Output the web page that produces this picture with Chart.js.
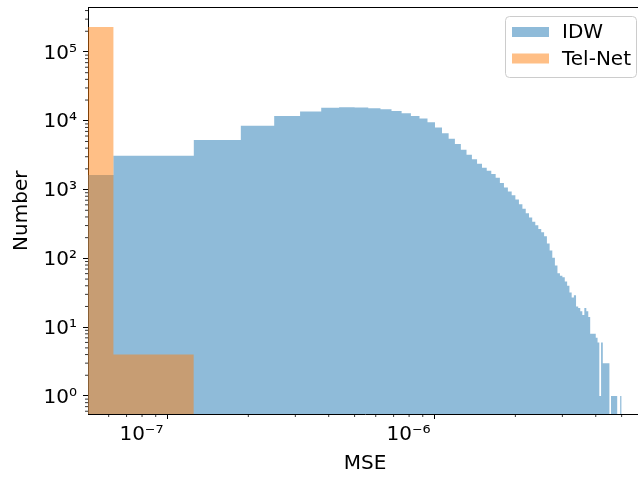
<!DOCTYPE html>
<html>
<head>
<meta charset="utf-8">
<title>MSE histogram</title>
<script src="https://cdn.jsdelivr.net/npm/chart.js@4/dist/chart.umd.min.js"></script>
<style>
  html, body { margin: 0; padding: 0; background: #fff; overflow: hidden; }
  #wrap { width: 660px; height: 477px; }
  canvas { display: block; }
</style>
</head>
<body>
<div id="wrap"><canvas id="hist" width="660" height="477"></canvas></div>
<script>
// 80 equal-width bins starting at 0
const binWidth = 6.25e-8;

// counts per bin
const idwCounts = [
  1630, 3100, 5250, 8500, 11700, 13600, 15400, 15700, 15600, 15200,
  14700, 13900, 12900, 11700, 10800, 9500, 8000, 6600, 5500, 4600,
  3800, 3200, 2750, 2380, 2080, 1870, 1690, 1490, 1250, 1070,
  940, 830, 716, 614, 526, 454, 393, 341, 302, 268,
  240, 210, 165, 130, 102, 79, 61, 56, 53, 46,
  40, 32, 27, 29, 20, 19, 17, 15, 19, 17,
  14, 8, 8, 8, 7, 6, 1, 6, 3, 3,
  3, 3, 0, 1, 1, 1, 1, 0, 0, 1
];
const telNetCounts = [231000, 4]; // later bins are empty

const xTickValues = [1e-7, 1e-6];
const xTickLabels = ['10⁻⁷', '10⁻⁶'];
const yTickValues = [1, 10, 100, 1000, 10000, 100000];
const yTickLabels = ['10⁰', '10¹', '10²', '10³', '10⁴', '10⁵'];

// axis limits
const xMin = 5.02e-8, xMax = 5.96e-6;
const yMin = 0.547, yMax = 4.43e5;

const FONT = { family: 'DejaVu Sans', size: 20 };

// stepped outline: one point per left bin edge, plus the closing right edge
function histPoints(counts) {
  const pts = counts.map((c, i) => ({
    x: Math.max(i * binWidth, xMin),
    y: c > 0 ? c : yMin / 10   // empty bin -> below the axis
  }));
  pts.push({ x: counts.length * binWidth, y: pts[pts.length - 1].y });
  return pts;
}

// minor log ticks + top/right spines
const minorTicks = {
  id: 'minorTicks',
  afterDraw(chart) {
    const { ctx, chartArea: a, scales: { x, y } } = chart;
    ctx.save();
    ctx.strokeStyle = '#000';
    ctx.lineWidth = 0.8;
    ctx.beginPath();
    for (let e = -9; e <= -5; e++) {
      for (let m = 2; m <= 9; m++) {
        const v = m * Math.pow(10, e);
        if (v < x.min || v > x.max) continue;
        const px = x.getPixelForValue(v);
        ctx.moveTo(px, a.bottom);
        ctx.lineTo(px, a.bottom + 3);
      }
    }
    for (let e = -1; e <= 5; e++) {
      for (let m = 2; m <= 9; m++) {
        const v = m * Math.pow(10, e);
        if (v < y.min || v > y.max) continue;
        const py = y.getPixelForValue(v);
        ctx.moveTo(a.left - 3, py);
        ctx.lineTo(a.left, py);
      }
    }
    ctx.stroke();
    ctx.lineWidth = 1;
    ctx.beginPath();
    ctx.moveTo(a.left, a.top);
    ctx.lineTo(a.right, a.top);
    ctx.lineTo(a.right, a.bottom);
    ctx.stroke();
    ctx.restore();
  }
};

// matplotlib-like legend box in the upper right of the plot
const boxLegend = {
  id: 'boxLegend',
  afterDraw(chart) {
    const { ctx, chartArea: a } = chart;
    const w = 131, h = 61;
    const left = a.right - 6 - w, top = a.top + 8.5;
    ctx.save();
    ctx.beginPath();
    ctx.roundRect(left + 0.5, top + 0.5, w, h, 4);
    ctx.fillStyle = 'rgba(255,255,255,0.8)';
    ctx.fill();
    ctx.strokeStyle = '#cccccc';
    ctx.lineWidth = 1;
    ctx.stroke();
    ctx.font = '20px "DejaVu Sans"';
    ctx.textBaseline = 'middle';
    chart.data.datasets.forEach((ds, i) => {
      const cy = top + 16 + i * 26.5;
      ctx.fillStyle = ds.backgroundColor;
      ctx.fillRect(left + 7, cy - 5, 37, 10);
      ctx.fillStyle = '#000';
      ctx.fillText(ds.label, left + 57, cy + 1);
    });
    ctx.restore();
  }
};

new Chart(document.getElementById('hist'), {
  type: 'line',
  data: {
    datasets: [
      {
        label: 'IDW',
        data: histPoints(idwCounts),
        stepped: 'before',
        fill: 'start',
        backgroundColor: 'rgba(31,119,180,0.5)',
        borderColor: 'rgba(0,0,0,0)',
        borderWidth: 0,
        pointRadius: 0,
        order: 1
      },
      {
        label: 'Tel-Net',
        data: histPoints(telNetCounts),
        stepped: 'before',
        fill: 'start',
        backgroundColor: 'rgba(255,127,14,0.5)',
        borderColor: 'rgba(0,0,0,0)',
        borderWidth: 0,
        pointRadius: 0,
        order: 0
      }
    ]
  },
  options: {
    responsive: false,
    animation: false,
    layout: { padding: { top: 7.5, right: 18, bottom: 0, left: 0 } },
    plugins: {
      legend: { display: false },
      tooltip: { enabled: false }
    },
    scales: {
      x: {
        type: 'logarithmic',
        min: xMin,
        max: xMax,
        afterBuildTicks: s => { s.ticks = xTickValues.map(v => ({ value: v })); },
        afterFit: s => { s.height = 63; s.paddingLeft = 0; s.paddingRight = 0; },
        ticks: {
          autoSkip: false,
          maxRotation: 0,
          padding: 4,
          labelOffset: -26.5,
          color: '#000',
          font: FONT,
          callback: (v, i) => xTickLabels[i]
        },
        grid: { drawOnChartArea: false, drawTicks: true, tickLength: 5, tickColor: '#000', tickWidth: 1 },
        border: { display: true, color: '#000', width: 1 },
        title: { display: true, text: 'MSE', color: '#000', font: FONT, padding: { top: 0, bottom: 1 } }
      },
      y: {
        type: 'logarithmic',
        min: yMin,
        max: yMax,
        afterBuildTicks: s => { s.ticks = yTickValues.map(v => ({ value: v })); },
        afterFit: s => { s.width = 88; s.paddingTop = 0; s.paddingBottom = 0; },
        ticks: {
          autoSkip: false,
          padding: 6,
          labelOffset: 1.5,
          color: '#000',
          font: FONT,
          callback: (v, i) => yTickLabels[i]
        },
        grid: { drawOnChartArea: false, drawTicks: true, tickLength: 5, tickColor: '#000', tickWidth: 1 },
        border: { display: true, color: '#000', width: 1 },
        title: { display: true, text: 'Number', color: '#000', font: FONT, padding: { top: 10, bottom: 0 } }
      }
    }
  },
  plugins: [minorTicks, boxLegend]
});
</script>
</body>
</html>
